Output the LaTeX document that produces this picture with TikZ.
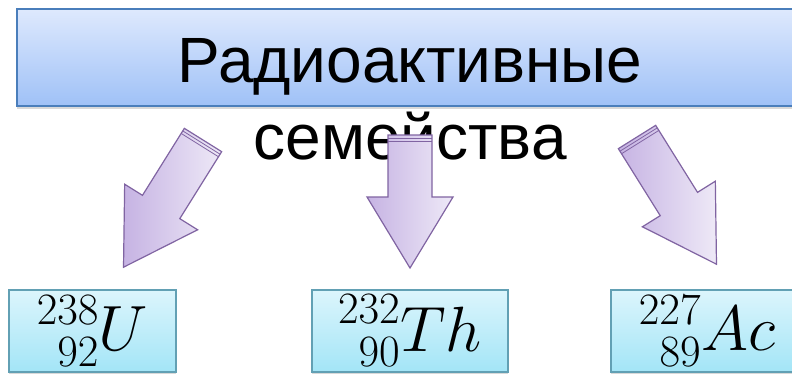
\documentclass[tikz,border=0pt]{standalone}
\usepackage{fix-cm}
\usepackage{mathtools}
\usepackage{fontspec}
\newfontfamily\titlefont{Liberation Sans}
\usetikzlibrary{shadows}

\definecolor{titleline}{HTML}{4A7EBB}
\definecolor{titletop}{HTML}{DEE9FD}
\definecolor{titlebottom}{HTML}{9FC1F7}
\definecolor{nucline}{HTML}{62A0B4}
\definecolor{nuctop}{HTML}{DCF5FC}
\definecolor{nucbottom}{HTML}{A3E5F7}
\definecolor{arrowline}{HTML}{8064A2}
\definecolor{arrowdark}{HTML}{C6B3E3}
\definecolor{arrowlight}{HTML}{EEE9F7}

\tikzset{
  pics/decay arrow/.style={code={
    \draw[block arrow] (-22,0) -- (22,0) -- (22,#1) -- (43,#1) -- (0,#1+71)
      -- (-43,#1) -- (-22,#1) -- cycle;
    \draw[arrowline, line width=0.8pt] (-22,3) -- (22,3) (-22,6) -- (22,6);
  }}
}

\begin{document}
\begin{tikzpicture}[x=1pt, y=-1pt,
  title box/.style={rectangle, draw=titleline, line width=2pt,
    top color=titletop, bottom color=titlebottom,
    minimum width=786pt, minimum height=97pt,
    drop shadow={shadow xshift=0pt, shadow yshift=-3pt, opacity=0.3}},
  nuclide/.style={rectangle, draw=nucline, line width=2pt,
    top color=nuctop, bottom color=nucbottom, minimum height=82pt,
    inner sep=0pt, font=\fontsize{64}{64}\selectfont,
    drop shadow={shadow xshift=0pt, shadow yshift=-2pt, opacity=0.3}},
  block arrow/.style={draw=arrowline, line width=1.2pt,
    left color=arrowdark, right color=arrowlight}]

\useasboundingbox (0,0) rectangle (792,375);

% heading
\node[title box] (title) at (410,57.5) {};
\node[font=\titlefont\fontsize{64}{77}\selectfont, align=center,
  anchor=north, inner sep=0pt] (family) at (410,38) {Радиоактивные\\семейства};

% arrows
\pic[rotate=-32] at (203,140) {decay arrow=79};
\pic at (410,135) {decay arrow=62};
\pic[rotate=32] at (637,137) {decay arrow=79};

% nuclides
\node[nuclide, minimum width=167pt] (U) at (92.5,331) {$\prescript{238}{92}{U}$};
\node[nuclide, minimum width=196pt] (Th) at (410,331) {$\prescript{232}{90}{Th}$};
\node[nuclide, minimum width=192pt] (Ac) at (707,331) {$\prescript{227}{89}{Ac}$};
\end{tikzpicture}
\end{document}
